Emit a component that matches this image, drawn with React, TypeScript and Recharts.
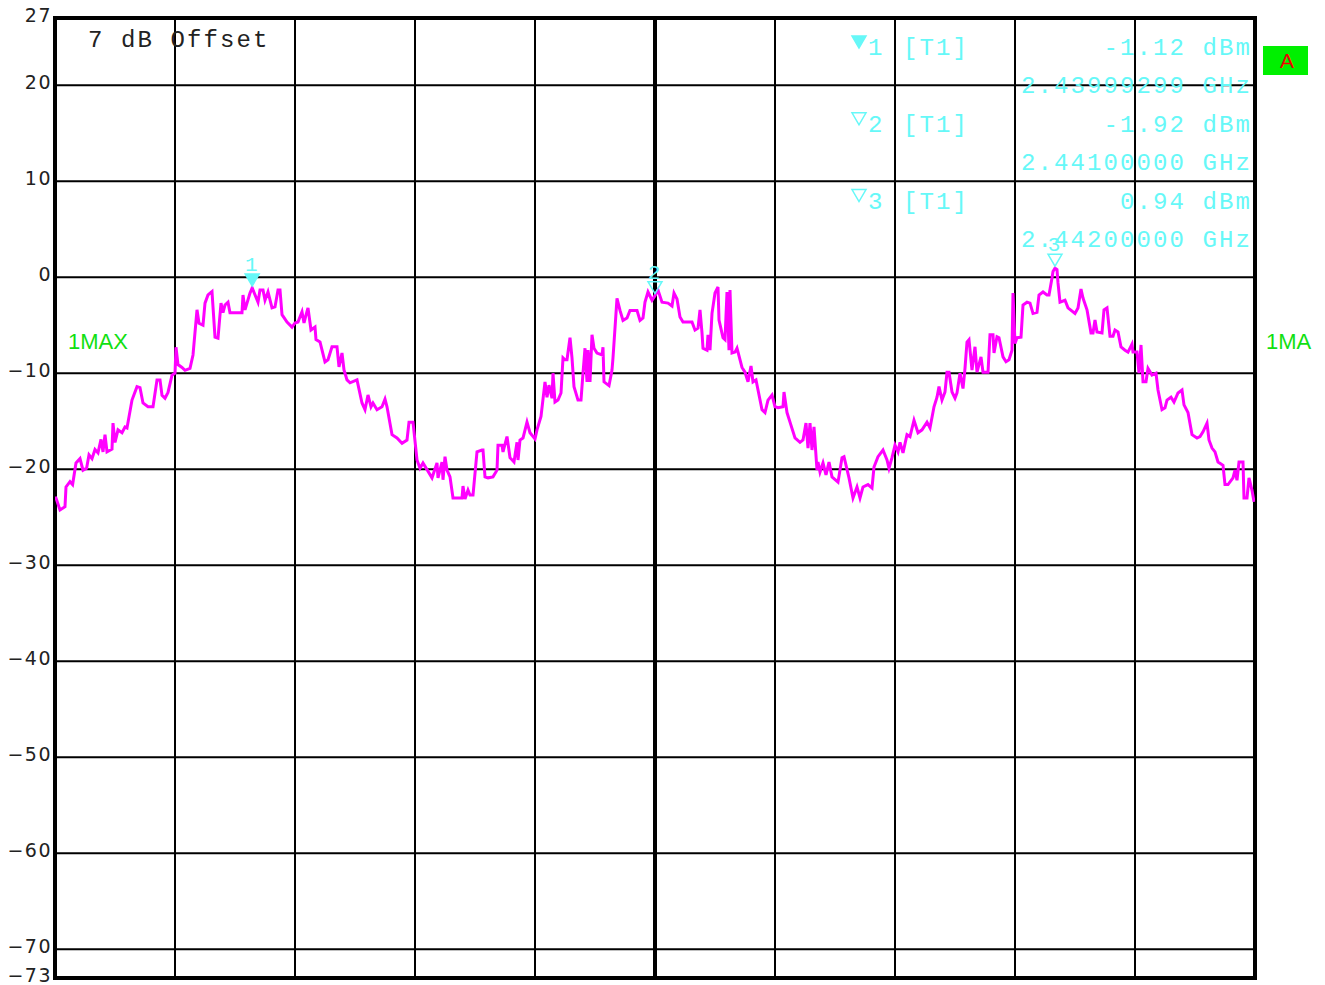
import {
  LineChart,
  Line,
  XAxis,
  YAxis,
  CartesianGrid,
  ReferenceLine,
  ReferenceArea,
  ReferenceDot,
} from 'recharts'

// sweep: [frequency MHz, level dBm]
const sweepA: [number, number][] = [
  [2439.5, -22.9], [2439.5025, -23.0], [2439.5125, -24.25], [2439.525, -23.9], [2439.5275, -21.85],
  [2439.5375, -21.3], [2439.544, -21.6], [2439.5525, -19.35], [2439.5625, -18.9], [2439.57, -20.1],
  [2439.579, -19.9], [2439.585, -18.5], [2439.5925, -18.9], [2439.6, -17.95], [2439.6075, -18.3],
  [2439.615, -16.9], [2439.62, -18.2], [2439.625, -16.4], [2439.63, -18.2], [2439.6425, -17.9],
  [2439.645, -15.2], [2439.65, -17.2], [2439.6575, -15.9], [2439.6675, -16.2], [2439.675, -15.6],
  [2439.68, -15.7], [2439.6925, -12.8], [2439.705, -11.4], [2439.7125, -11.5], [2439.72, -13.1],
  [2439.7325, -13.5], [2439.745, -13.5], [2439.755, -10.7], [2439.7625, -10.7], [2439.7675, -12.3],
  [2439.775, -12.6], [2439.7825, -12.0], [2439.7925, -10.2], [2439.8, -10.0], [2439.8025, -7.3],
  [2439.8075, -9.1], [2439.8175, -9.4], [2439.825, -9.7], [2439.8375, -9.5], [2439.845, -8.1],
  [2439.855, -3.4], [2439.86, -4.8], [2439.87, -5.0], [2439.875, -2.7], [2439.8825, -1.85],
  [2439.8925, -1.5], [2439.895, -3.1], [2439.9, -6.25], [2439.9075, -6.35], [2439.915, -2.7],
  [2439.92, -3.7], [2439.925, -2.9], [2439.9325, -2.6], [2439.9375, -3.7], [2439.955, -3.7],
  [2439.9675, -3.7], [2439.97, -1.85], [2439.975, -3.4], [2439.9875, -1.65], [2439.993, -1.12],
  [2440.0075, -2.6],
]

const sweepB: [number, number][] = [
  [2440.0125, -1.33], [2440.02, -1.33], [2440.025, -2.4], [2440.0325, -1.54], [2440.0425, -3.2],
  [2440.05, -3.1], [2440.0575, -1.33], [2440.0625, -1.33], [2440.0675, -3.9], [2440.08, -4.67],
  [2440.0925, -5.2], [2440.1, -4.77], [2440.1075, -4.67], [2440.1175, -3.6], [2440.1225, -4.77],
  [2440.1275, -3.94], [2440.1325, -3.2], [2440.14, -5.5], [2440.15, -5.2], [2440.1525, -6.5],
  [2440.1625, -6.75], [2440.175, -8.83], [2440.1825, -8.6], [2440.1925, -7.25], [2440.205, -7.25],
  [2440.21, -9.35], [2440.2175, -7.9], [2440.2225, -9.67], [2440.23, -10.7], [2440.2375, -11.0],
  [2440.255, -10.7], [2440.2675, -13.1], [2440.275, -13.8], [2440.2825, -12.27], [2440.29, -13.5],
  [2440.295, -13.1], [2440.305, -13.8], [2440.3175, -13.5], [2440.325, -12.7], [2440.33, -13.5],
  [2440.3425, -16.4], [2440.355, -16.75], [2440.3675, -17.3], [2440.38, -16.96], [2440.385, -15.1],
  [2440.395, -15.1], [2440.405, -19.04], [2440.4125, -19.9], [2440.42, -19.35], [2440.4425, -20.9],
  [2440.455, -19.35], [2440.4575, -20.9], [2440.4675, -19.25], [2440.47, -21.1], [2440.475, -18.7],
  [2440.48, -20.08], [2440.4875, -20.8], [2440.495, -23.0],
]

const sweepC: [number, number][] = [
  [2440.5075, -23.0], [2440.5175, -23.0], [2440.52, -21.75], [2440.525, -23.1], [2440.5325, -22.17],
  [2440.5375, -22.7], [2440.545, -22.7], [2440.555, -18.2], [2440.5675, -18.0], [2440.57, -18.0],
  [2440.575, -20.8], [2440.5825, -20.9], [2440.595, -20.8], [2440.605, -20.1], [2440.6075, -17.5],
  [2440.6175, -17.5], [2440.62, -18.2], [2440.63, -16.6], [2440.6375, -18.8], [2440.6475, -19.25],
  [2440.655, -17.2], [2440.6575, -19.04], [2440.6625, -16.96], [2440.67, -16.75], [2440.68, -15.1],
  [2440.6875, -16.2], [2440.7, -16.85], [2440.705, -15.9], [2440.715, -14.5], [2440.725, -10.9],
  [2440.73, -12.5], [2440.735, -11.25], [2440.7425, -12.6], [2440.745, -10.0], [2440.75, -13.0],
  [2440.7575, -12.8], [2440.765, -12.06], [2440.77, -8.4], [2440.775, -8.6], [2440.78, -8.6],
  [2440.7875, -6.3], [2440.7925, -8.4], [2440.7975, -11.4], [2440.8075, -12.8], [2440.815, -12.8],
  [2440.82, -10.0], [2440.825, -7.4], [2440.83, -10.9], [2440.8325, -7.6], [2440.8375, -10.9],
  [2440.8425, -6.0], [2440.8475, -7.4], [2440.855, -7.9], [2440.8675, -8.1], [2440.87, -7.3],
  [2440.8725, -10.9], [2440.885, -11.3], [2440.8925, -9.67], [2440.895, -8.4], [2440.905, -2.2],
  [2440.9125, -3.46], [2440.92, -4.5], [2440.93, -4.25], [2440.9375, -3.46], [2440.955, -3.46],
  [2440.9625, -4.5], [2440.97, -4.25], [2440.975, -2.6], [2440.9825, -1.54], [2440.9925, -2.4],
  [2441.0, -1.92],
]

const sweepD: [number, number][] = [
  [2441.0075, -1.33], [2441.0175, -2.6], [2441.0325, -2.7], [2441.0425, -3.0], [2441.0475, -1.65],
  [2441.055, -2.27], [2441.0625, -4.15], [2441.07, -4.67], [2441.0925, -4.67], [2441.1, -5.5],
  [2441.1075, -5.3], [2441.1125, -3.4], [2441.1175, -5.8], [2441.12, -7.4], [2441.13, -7.6],
  [2441.1325, -6.0], [2441.1375, -7.6], [2441.1425, -3.77], [2441.15, -1.65], [2441.1575, -1.02],
  [2441.16, -4.46], [2441.17, -6.3], [2441.175, -6.5], [2441.18, -1.54], [2441.185, -7.6],
  [2441.1875, -1.33], [2441.1925, -7.9], [2441.2, -7.8], [2441.205, -7.4], [2441.2175, -9.4],
  [2441.225, -9.9], [2441.2325, -10.9], [2441.24, -9.25], [2441.245, -10.9], [2441.2525, -10.7],
  [2441.2675, -13.8], [2441.275, -14.1], [2441.2825, -12.8], [2441.2925, -12.27], [2441.3, -13.5],
  [2441.3075, -13.6], [2441.32, -13.5], [2441.3225, -11.96], [2441.33, -14.1], [2441.3375, -15.1],
  [2441.35, -16.75], [2441.3625, -17.2], [2441.37, -16.96], [2441.3775, -15.2], [2441.3825, -17.8],
  [2441.3875, -15.2], [2441.3925, -18.0], [2441.3975, -15.6], [2441.405, -20.1], [2441.4075, -19.25],
  [2441.4125, -20.3], [2441.42, -19.35], [2441.4275, -20.6], [2441.435, -19.25], [2441.4425, -20.8],
  [2441.4575, -21.35], [2441.4675, -18.8], [2441.4725, -18.7], [2441.485, -20.9], [2441.495, -23.0],
]

const sweepE: [number, number][] = [
  [2441.505, -21.85], [2441.5125, -23.0], [2441.52, -21.85], [2441.5325, -21.6], [2441.5425, -21.96],
  [2441.5475, -19.77], [2441.5575, -18.7], [2441.57, -18.0], [2441.58, -19.04], [2441.585, -19.9],
  [2441.5925, -18.8], [2441.6, -17.5], [2441.6075, -18.2], [2441.6125, -17.2], [2441.62, -18.3],
  [2441.63, -16.4], [2441.6375, -16.6], [2441.6475, -14.9], [2441.6575, -16.2], [2441.6675, -15.9],
  [2441.68, -15.1], [2441.6875, -15.7], [2441.6975, -13.5], [2441.705, -12.5], [2441.71, -11.4],
  [2441.7175, -12.8], [2441.725, -11.96], [2441.73, -9.9], [2441.735, -9.9], [2441.7425, -11.96],
  [2441.75, -12.6], [2441.755, -12.06], [2441.7625, -10.0], [2441.77, -11.6], [2441.775, -9.5],
  [2441.78, -6.75], [2441.785, -6.5], [2441.7925, -9.67], [2441.8, -7.25], [2441.805, -9.9],
  [2441.815, -8.3], [2441.82, -9.9], [2441.8325, -9.9], [2441.8375, -6.0], [2441.845, -6.0],
  [2441.8475, -7.9], [2441.855, -6.2], [2441.86, -6.3], [2441.87, -8.3], [2441.8775, -8.8],
  [2441.885, -8.6], [2441.8925, -7.6], [2441.895, -1.65], [2441.9, -6.9], [2441.905, -6.3],
  [2441.915, -6.25], [2441.92, -2.9], [2441.93, -2.6], [2441.9375, -2.7], [2441.945, -3.77],
  [2441.955, -3.65], [2441.96, -1.85], [2441.97, -1.54], [2441.98, -1.85], [2441.985, -1.85],
  [2441.9925, -0.08], [2441.995, 0.6], [2442.0, 0.94],
]

const sweepF: [number, number][] = [
  [2442.005, 0.8], [2442.0075, -0.6], [2442.0125, -2.6], [2442.025, -2.4], [2442.0325, -3.2],
  [2442.05, -3.77], [2442.0575, -3.2], [2442.065, -1.23], [2442.07, -2.17], [2442.08, -3.4],
  [2442.09, -5.8], [2442.095, -5.8], [2442.1, -4.46], [2442.105, -5.7], [2442.1175, -5.8],
  [2442.1225, -3.4], [2442.13, -3.2], [2442.1375, -6.15], [2442.145, -6.15], [2442.15, -5.5],
  [2442.1575, -5.7], [2442.165, -7.27], [2442.175, -7.6], [2442.1825, -7.8], [2442.1925, -6.96],
  [2442.195, -7.8], [2442.205, -7.8], [2442.21, -10.0], [2442.215, -7.06], [2442.22, -10.9],
  [2442.2275, -10.9], [2442.2325, -9.5], [2442.2425, -10.2], [2442.2525, -10.0], [2442.2575, -11.75],
  [2442.2675, -13.8], [2442.275, -13.6], [2442.28, -12.8], [2442.29, -12.5], [2442.2975, -13.0],
  [2442.3075, -12.06], [2442.3175, -11.75], [2442.3225, -13.3], [2442.3325, -14.1], [2442.3425, -16.4],
  [2442.355, -16.75], [2442.3625, -16.6], [2442.37, -16.1], [2442.38, -15.2], [2442.385, -16.96],
  [2442.3925, -17.8], [2442.4, -18.2], [2442.4075, -19.25], [2442.42, -19.6], [2442.425, -21.6],
  [2442.4325, -21.6], [2442.445, -20.9], [2442.45, -20.1], [2442.455, -21.15], [2442.46, -19.25],
  [2442.47, -19.25], [2442.4725, -23.0], [2442.48, -23.0], [2442.485, -20.9], [2442.4925, -22.2],
  [2442.4975, -23.4],
]

const yTicks = [27, 20, 10, 0, -10, -20, -30, -40, -50, -60, -70, -73]
const xDivisions = [2439.8, 2440.1, 2440.4, 2440.7, 2441.3, 2441.6, 2441.9, 2442.2]
const centerFreq = 2441.0

// marker table: id, freq MHz, level dBm, text lines
const markers = [
  { id: 1, freq: 2439.99299, level: -1.12, filled: true, levelText: '-1.12 dBm', freqText: '2.43999299 GHz' },
  { id: 2, freq: 2441.0, level: -1.92, filled: false, levelText: '-1.92 dBm', freqText: '2.44100000 GHz' },
  { id: 3, freq: 2442.0, level: 0.94, filled: false, levelText: '0.94 dBm', freqText: '2.44200000 GHz' },
]

const traceData = [...sweepA, ...sweepB, ...sweepC, ...sweepD, ...sweepE, ...sweepF].map(([f, v]) => ({ f, v }))

const CYAN = '#66f8f8'
const GREEN = '#11e011'
const MONO = '"Liberation Mono", "DejaVu Sans Mono", monospace'

const YTick = ({ y, payload }: { y?: number; payload?: { value: number } }) => {
  if (y == null || !payload) return null
  const label = String(payload.value).replace('-', '\u2212')
  return (
    <text
      x={52}
      y={y - 3}
      textAnchor="end"
      dominantBaseline="central"
      fontFamily='"DejaVu Sans", sans-serif'
      fontSize={19}
      letterSpacing={1.5}
      fill="#222"
    >
      {label}
    </text>
  )
}

const markerShape = (id: number, filled: boolean) => (props: { cx?: number; cy?: number }) => {
  const { cx = 0, cy = 0 } = props
  return (
    <g>
      <polygon
        points={`${cx - 7},${cy - 14} ${cx + 7},${cy - 14} ${cx},${cy - 2}`}
        fill={filled ? CYAN : 'none'}
        stroke={CYAN}
        strokeWidth={1.5}
      />
      <text x={cx - 1} y={cy - 17} textAnchor="middle" fontFamily={MONO} fontSize={21} fill={CYAN}>
        {id}
      </text>
    </g>
  )
}

export default function App() {
  return (
    <div style={{ position: 'absolute', left: 0, top: 0, width: 1325, height: 985, background: '#fff' }}>
      <LineChart
        width={1325}
        height={985}
        data={traceData}
        margin={{ top: 18, right: 70, bottom: 7, left: 0 }}
      >
        <CartesianGrid stroke="#000" strokeWidth={2} vertical={false} />
        <XAxis
          type="number"
          dataKey="f"
          domain={[2439.5, 2442.5]}
          allowDataOverflow
          tick={false}
          tickLine={false}
          axisLine={false}
          height={0}
        />
        <YAxis
          type="number"
          domain={[-73, 27]}
          ticks={yTicks}
          interval={0}
          allowDataOverflow
          width={55}
          tickLine={false}
          axisLine={false}
          tick={<YTick />}
        />
        {xDivisions.map((f) => (
          <ReferenceLine key={f} x={f} stroke="#000" strokeWidth={2} />
        ))}
        <ReferenceLine x={centerFreq} stroke="#000" strokeWidth={4} />
        <ReferenceArea x1={2439.5} x2={2442.5} y1={-73} y2={27} fill="none" stroke="#000" strokeWidth={4} />
        <Line
          type="linear"
          dataKey="v"
          stroke="#ff00ff"
          strokeWidth={3}
          dot={false}
          isAnimationActive={false}
        />
        {markers.map((m) => (
          <ReferenceDot
            key={m.id}
            x={m.freq}
            y={m.level}
            r={0}
            ifOverflow="visible"
            shape={markerShape(m.id, m.filled)}
          />
        ))}
      </LineChart>
      <svg
        width={1325}
        height={985}
        style={{ position: 'absolute', left: 0, top: 0, pointerEvents: 'none' }}
      >
        <text x={88} y={47} fontFamily={MONO} fontSize={24} letterSpacing={2.1} fill="#222">
          7 dB Offset
        </text>
        <text x={68} y={349} fontFamily='"Liberation Sans", Arial, sans-serif' fontSize={22} fill={GREEN}>
          1MAX
        </text>
        <text x={1266} y={349} fontFamily='"Liberation Sans", Arial, sans-serif' fontSize={22} fill={GREEN}>
          1MA
        </text>
        <rect x={1263} y={46} width={45} height={29} fill="#00f000" />
        <text x={1287} y={68} textAnchor="middle" fontFamily='"Liberation Sans", Arial, sans-serif' fontSize={21} fill="#f00000">
          A
        </text>
        {markers.map((m, i) => {
          const base = 55 + i * 76.8
          return (
            <g key={m.id} fontFamily={MONO} fontSize={24} letterSpacing={2.1} fill={CYAN}>
              <polygon
                points={`852,${base - 19} 866,${base - 19} 859,${base - 7}`}
                fill={m.filled ? CYAN : 'none'}
                stroke={CYAN}
                strokeWidth={1.5}
              />
              <text x={868} y={base}>{m.id}</text>
              <text x={903} y={base}>[T1]</text>
              <text x={1252} y={base} textAnchor="end">{m.levelText}</text>
              <text x={1252} y={base + 38} textAnchor="end">{m.freqText}</text>
            </g>
          )
        })}
      </svg>
    </div>
  )
}
